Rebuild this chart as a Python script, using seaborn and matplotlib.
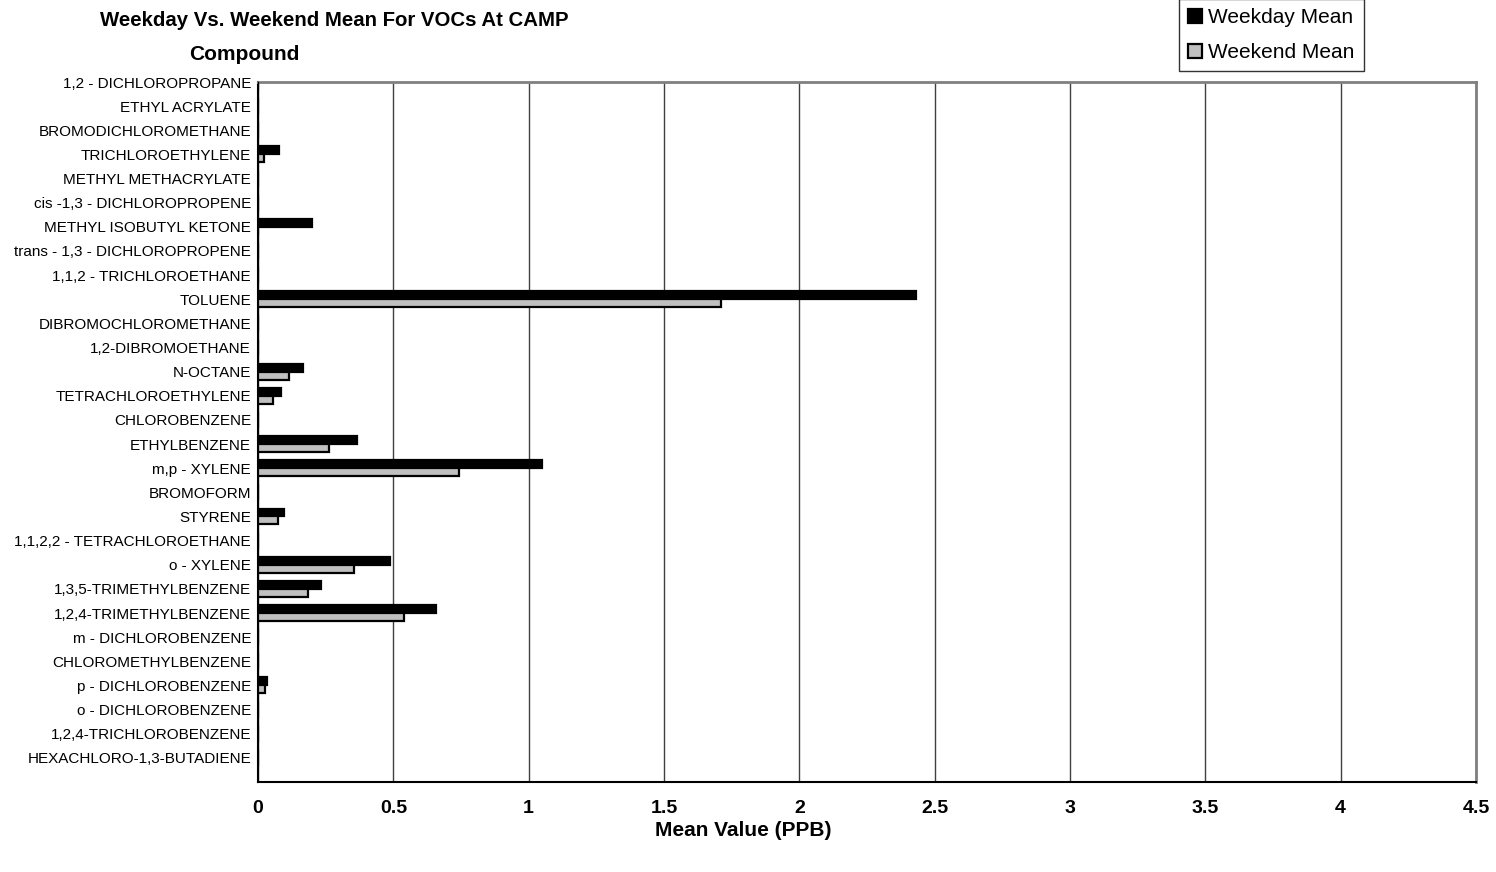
import matplotlib
matplotlib.use("Agg")
import matplotlib.pyplot as plt
from matplotlib.patches import Patch
import seaborn as sns
import pandas as pd

compounds = [
    "1,2 - DICHLOROPROPANE", "ETHYL ACRYLATE", "BROMODICHLOROMETHANE",
    "TRICHLOROETHYLENE", "METHYL METHACRYLATE", "cis -1,3 - DICHLOROPROPENE",
    "METHYL ISOBUTYL KETONE", "trans - 1,3 - DICHLOROPROPENE",
    "1,1,2 - TRICHLOROETHANE", "TOLUENE", "DIBROMOCHLOROMETHANE",
    "1,2-DIBROMOETHANE", "N-OCTANE", "TETRACHLOROETHYLENE", "CHLOROBENZENE",
    "ETHYLBENZENE", "m,p - XYLENE", "BROMOFORM", "STYRENE",
    "1,1,2,2 - TETRACHLOROETHANE", "o - XYLENE", "1,3,5-TRIMETHYLBENZENE",
    "1,2,4-TRIMETHYLBENZENE", "m - DICHLOROBENZENE", "CHLOROMETHYLBENZENE",
    "p - DICHLOROBENZENE", "o - DICHLOROBENZENE", "1,2,4-TRICHLOROBENZENE",
    "HEXACHLORO-1,3-BUTADIENE",
]
weekday_mean = [
    0, 0, 0, 0.078, 0, 0, 0.200, 0, 0, 2.43, 0, 0, 0.165, 0.084, 0,
    0.365, 1.048, 0, 0.097, 0, 0.488, 0.232, 0.656, 0, 0, 0.033, 0, 0, 0,
]
weekend_mean = [
    0, 0, 0, 0.023, 0, 0, 0, 0, 0, 1.71, 0, 0, 0.114, 0.055, 0,
    0.263, 0.742, 0, 0.073, 0, 0.354, 0.184, 0.540, 0, 0, 0.027, 0, 0, 0,
]
series_names = ["Weekday Mean", "Weekend Mean"]
x_ticks = [0, 0.5, 1, 1.5, 2, 2.5, 3, 3.5, 4, 4.5]
x_tick_labels = ["0", "0.5", "1", "1.5", "2", "2.5", "3", "3.5", "4", "4.5"]

df = pd.DataFrame({
    "Compound": compounds * 2,
    "Value": weekday_mean + weekend_mean,
    "Series": [series_names[0]] * len(compounds) + [series_names[1]] * len(compounds),
})

sns.set_style("white")
plt.rcParams["font.family"] = ["Liberation Sans", "DejaVu Sans"]
plt.rcParams["text.color"] = "black"
plt.rcParams["xtick.color"] = "black"
plt.rcParams["ytick.color"] = "black"

colors = {"Weekday Mean": "#000000", "Weekend Mean": "#c0c0c0"}

fig = plt.figure(figsize=(14.96, 8.72), dpi=100)
ax = fig.add_axes([258 / 1496, 1 - 782 / 872, (1476 - 258) / 1496, (782 - 82) / 872])

sns.barplot(data=df, y="Compound", x="Value", hue="Series", order=compounds,
            hue_order=series_names, palette=colors, orient="h", width=0.66,
            edgecolor="black", linewidth=1.6, ax=ax, legend=False, zorder=3)

ax.set_xlim(0, 4.5)
ax.set_ylim(len(compounds), 0)
ax.set_xticks(x_ticks)
ax.set_xticklabels(x_tick_labels, fontsize=14, fontweight="bold")
ax.set_yticks(range(len(compounds)))
ax.set_yticklabels(compounds, fontsize=11)
ax.tick_params(axis="x", direction="out", length=5, width=1, pad=8)
ax.tick_params(axis="y", direction="out", length=4, width=1, pad=1)
ax.set_xlabel("")
ax.set_ylabel("")

ax.grid(axis="x", color="#404040", linewidth=1.0, zorder=0)
ax.grid(axis="y", visible=False)
for side in ["top", "right"]:
    ax.spines[side].set_color("#808080")
    ax.spines[side].set_linewidth(2)
for side in ["left", "bottom"]:
    ax.spines[side].set_color("black")
    ax.spines[side].set_linewidth(1.5)

fig.text(100 / 1496, 1 - 20 / 872, "Weekday Vs. Weekend Mean For VOCs At CAMP",
         fontsize=14.7, fontweight="bold", ha="left", va="center")
fig.text(244 / 1496, 1 - 54 / 872, "Compound", fontsize=15,
         fontweight="bold", ha="center", va="center")
fig.text(743 / 1496, 1 - 830 / 872, "Mean Value (PPB)", fontsize=15,
         fontweight="bold", ha="center", va="center")

handles = [Patch(facecolor=colors[s], edgecolor="black", linewidth=1.6, label=s)
           for s in series_names]
leg = fig.legend(handles=handles, loc="upper left",
                 bbox_to_anchor=(1179 / 1496, 1 + 1 / 872), fontsize=15,
                 frameon=True, fancybox=False, edgecolor="black",
                 handlelength=0.65, handleheight=0.65, handletextpad=0.3,
                 labelspacing=0.75, borderpad=0.45, borderaxespad=0)
leg.get_frame().set_linewidth(1.0)

fig.savefig("out.png", dpi=100)
